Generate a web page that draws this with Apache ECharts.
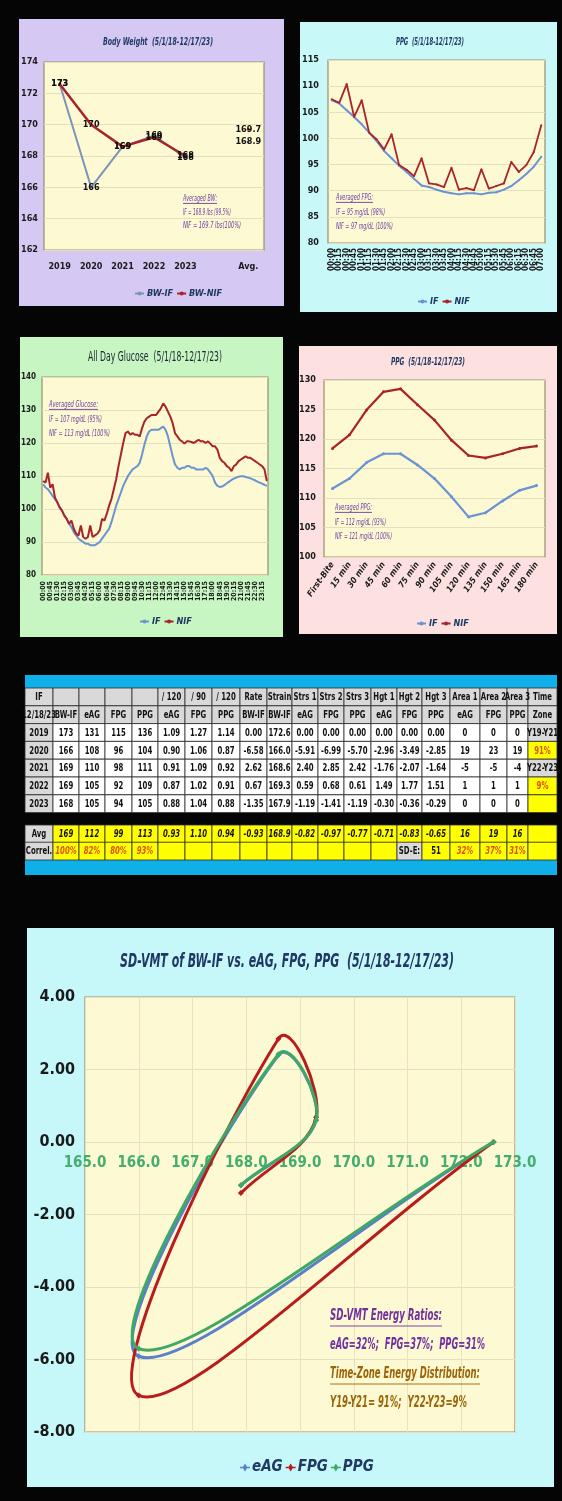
<!DOCTYPE html>
<html>
<head>
<meta charset="utf-8">
<script src="https://cdn.jsdelivr.net/npm/echarts@6.0.0/dist/echarts.min.js"></script>
<style>
html,body{margin:0;padding:0;background:#050505;}
#main{width:562px;height:1501px;}
</style>
</head>
<body>
<div id="main"></div>
<script>
var NARROW = "'Liberation Sans Narrow','Arial Narrow','DejaVu Sans Condensed',sans-serif";

// 体重
var bwYears = ['2019', '2020', '2021', '2022', '2023', '', 'Avg.'];
var bwIF = [172.6, 166.0, 168.6, 169.3, 167.9, null, 168.9];
var bwNIF = [172.6, 170.0, 168.6, 169.2, 168.0, null, 169.7];

// 空腹 (右上)
var fpgTimes = ['00:00', '00:15', '00:30', '00:45', '01:00', '01:15', '01:30', '01:45', '02:00', '02:15',
	'02:30', '02:45', '03:00', '03:15', '03:30', '03:45', '04:00', '04:15', '04:30', '04:45',
	'05:00', '05:15', '05:30', '05:45', '06:00', '06:15', '06:30', '06:45', '07:00'];
var fpgIF = [107.3, 106.7, 105.4, 104.1, 102.7, 101.1, 99.5, 97.6, 96.2, 94.8, 93.6, 92.3, 91.0, 90.7, 90.2,
	89.8, 89.5, 89.3, 89.5, 89.5, 89.3, 89.6, 89.7, 90.2, 90.9, 92.0, 93.2, 94.6, 96.5];
var fpgNIF = [107.5, 106.8, 110.4, 104.1, 107.3, 101.1, 99.8, 97.9, 100.8, 94.9, 94.0, 92.8, 96.2, 91.4, 91.2,
	90.7, 94.4, 90.2, 90.5, 90.1, 94.1, 90.4, 90.9, 91.4, 95.5, 93.6, 94.9, 97.4, 102.5];

// 全天血糖, 每15分钟
var dayIF = [107.5, 106.5, 106.0, 105.0, 104.0, 103.0, 102.0, 100.5, 99.5, 98.0,
	97.0, 95.5, 94.5, 93.0, 92.0, 91.0, 90.5, 90.0, 89.5, 89.5,
	89.0, 89.0, 89.0, 89.5, 90.0, 91.0, 92.0, 93.0, 94.0, 96.0,
	98.5, 101.0, 103.0, 105.0, 107.0, 108.5, 110.0, 111.0, 112.0, 112.5,
	113.0, 114.0, 116.5, 119.5, 122.0, 123.5, 124.0, 124.0, 124.0, 124.0,
	124.5, 125.0, 124.0, 122.0, 119.0, 116.0, 113.5, 112.5, 112.0, 112.5,
	112.5, 113.0, 113.0, 112.5, 112.5, 112.0, 112.0, 112.0, 112.0, 112.5,
	112.0, 111.0, 110.0, 108.0, 107.0, 106.7, 106.8, 107.2, 107.8, 108.3,
	108.8, 109.2, 109.5, 109.8, 109.9, 109.9, 109.7, 109.5, 109.3, 109.0,
	108.7, 108.3, 108.0, 107.7, 107.3, 107.0];
var dayNIF = [108.5, 108.0, 111.0, 106.5, 107.5, 103.5, 102.0, 100.5, 99.5, 98.0,
	97.0, 95.5, 96.5, 94.0, 92.5, 92.0, 95.0, 91.5, 91.0, 91.5,
	95.0, 91.5, 92.0, 92.5, 93.5, 97.0, 96.5, 98.5, 101.0, 103.0,
	106.0, 109.0, 113.0, 116.5, 120.0, 123.0, 123.5, 122.5, 123.0, 122.5,
	122.5, 122.0, 124.5, 126.5, 127.5, 128.0, 128.5, 128.5, 128.5, 129.5,
	130.5, 132.0, 131.0, 129.5, 128.0, 126.0, 123.0, 122.0, 121.0, 120.5,
	119.8, 120.5, 120.5, 120.3, 120.0, 120.5, 121.0, 120.5, 120.5, 120.0,
	120.5, 119.8, 119.0, 119.0, 118.0, 115.5, 114.5, 114.0, 113.0, 112.5,
	111.5, 113.0, 113.5, 114.5, 115.0, 115.5, 116.0, 115.5, 115.5, 115.0,
	114.5, 114.0, 113.5, 113.0, 112.0, 108.5];
var dayTimes = [];
for (var h = 0; h < 24; h++) {
	for (var m = 0; m < 60; m += 15) {
		dayTimes.push((h < 10 ? '0' : '') + h + ':' + (m < 10 ? '0' : '') + m);
	}
}

// 餐后
var ppgSteps = ['First-Bite', '15 min', '30 min', '45 min', '60 min', '75 min', '90 min', '105 min',
	'120 min', '135 min', '150 min', '165 min', '180 min'];
var ppgIF = [111.6, 113.3, 116.0, 117.5, 117.5, 115.6, 113.3, 110.2, 106.8, 107.5, 109.5, 111.3, 112.1];
var ppgNIF = [118.4, 120.7, 124.9, 128.0, 128.5, 125.8, 123.2, 119.8, 117.2, 116.8, 117.5, 118.4, 118.8];

// SD-VMT
var strainBW = [172.6, 166.0, 168.6, 169.3, 167.9];
var strsEAG = [0.00, -5.91, 2.40, 0.59, -1.19];
var strsFPG = [0.00, -6.99, 2.85, 0.68, -1.41];
var strsPPG = [0.00, -5.70, 2.42, 0.61, -1.19];

// 表格
var tHead1 = ['IF', '', '', '', '', '/ 120', '/ 90', '/ 120', 'Rate', 'Strain', 'Strs 1', 'Strs 2', 'Strs 3', 'Hgt 1', 'Hgt 2', 'Hgt 3', 'Area 1', 'Area 2', 'Area 3', 'Time'];
var tHead2 = ['12/18/23', 'BW-IF', 'eAG', 'FPG', 'PPG', 'eAG', 'FPG', 'PPG', 'BW-IF', 'BW-IF', 'eAG', 'FPG', 'PPG', 'eAG', 'FPG', 'PPG', 'eAG', 'FPG', 'PPG', 'Zone'];
var t2019 = ['2019', '173', '131', '115', '136', '1.09', '1.27', '1.14', '0.00', '172.6', '0.00', '0.00', '0.00', '0.00', '0.00', '0.00', '0', '0', '0', 'Y19-Y21'];
var t2020 = ['2020', '166', '108', '96', '104', '0.90', '1.06', '0.87', '-6.58', '166.0', '-5.91', '-6.99', '-5.70', '-2.96', '-3.49', '-2.85', '19', '23', '19', '91%'];
var t2021 = ['2021', '169', '110', '98', '111', '0.91', '1.09', '0.92', '2.62', '168.6', '2.40', '2.85', '2.42', '-1.76', '-2.07', '-1.64', '-5', '-5', '-4', 'Y22-Y23'];
var t2022 = ['2022', '169', '105', '92', '109', '0.87', '1.02', '0.91', '0.67', '169.3', '0.59', '0.68', '0.61', '1.49', '1.77', '1.51', '1', '1', '1', '9%'];
var t2023 = ['2023', '168', '105', '94', '105', '0.88', '1.04', '0.88', '-1.35', '167.9', '-1.19', '-1.41', '-1.19', '-0.30', '-0.36', '-0.29', '0', '0', '0', ''];
var tAvg = ['Avg', '169', '112', '99', '113', '0.93', '1.10', '0.94', '-0.93', '168.9', '-0.82', '-0.97', '-0.77', '-0.71', '-0.83', '-0.65', '16', '19', '16', ''];
var tCorrel = ['Correl.', '100%', '82%', '80%', '93%', '', '', '', '', '', '', '', '', '', 'SD-E:', '51', '32%', '37%', '31%', ''];

var BLUE = '#6a93d4', RED = '#a9232b', NAVY = '#1f3864', PURPLE = '#6a3aa0';

var ctx = document.createElement('canvas').getContext('2d');
function mw(s, font) {
	ctx.font = font;
	return ctx.measureText(s).width;
}
function fnt(style, size) {
	return style + ' ' + size + 'px ' + NARROW;
}

var gfx = [];

function rect(x, y, w, h, fill, stroke, z) {
	gfx.push({
		type: 'rect', z: z == null ? -5 : z, silent: true,
		shape: { x: x, y: y, width: w, height: h },
		style: { fill: fill, stroke: stroke || null, lineWidth: stroke ? 0.8 : 0 }
	});
}

// 文字, w = 目标宽度 (压扁)
function tx(x, y, s, font, color, w, align, sc) {
	var scale = sc || 1;
	if (w) scale = w / mw(s, font);
	gfx.push({
		type: 'text', z: 60, silent: true, x: x, y: y, scaleX: scale,
		style: { text: s, x: 0, y: 0, font: font, fill: color, align: align || 'left', verticalAlign: 'middle' }
	});
}

function uline(x, y, w, color) {
	gfx.push({
		type: 'line', z: 60, silent: true,
		shape: { x1: x, y1: y, x2: x + w, y2: y },
		style: { stroke: color, lineWidth: 0.9 }
	});
}

function note(x, y0, gap, lines, widths, size, color) {
	for (var i = 0; i < lines.length; i++) {
		tx(x, y0 + i * gap, lines[i], fnt('italic', size), color, widths[i]);
	}
	uline(x, y0 + size * 0.55, widths[0], color);
}

// 面板
rect(19, 19, 265, 287, '#d5c8f3');
rect(300, 22, 257, 290, '#c8f8f8');
rect(20, 337, 263, 300, '#c8f6c2');
rect(299, 346, 258, 288, '#fde1e1');
rect(27, 928, 527, 559, '#c6f7f9');

// 标题
tx(158, 42, 'Body Weight  (5/1/18-12/17/23)', fnt('italic bold', 11), NAVY, 110, 'center');
tx(430, 42, 'PPG  (5/1/18-12/17/23)', fnt('italic bold', 10), NAVY, 68, 'center');
tx(155, 357, 'All Day Glucose  (5/1/18-12/17/23)', fnt('normal', 14), '#1b2233', 134, 'center');
tx(428, 362, 'PPG  (5/1/18-12/17/23)', fnt('italic bold', 10), NAVY, 74, 'center');
tx(287, 962, 'SD-VMT of BW-IF vs. eAG, FPG, PPG  (5/1/18-12/17/23)', fnt('italic bold', 19), NAVY, 334, 'center');

// 注释
note(183, 199, 13.5, ['Averaged BW:', 'IF = 168.9 lbs (99.5%)', 'NIF = 169.7 lbs(100%)'], [34, 48, 58], 8, PURPLE);
note(336, 198, 14.5, ['Averaged FPG:', 'IF = 95 mg/dL (98%)', 'NIF = 97 mg/dL (100%)'], [37, 49, 57], 8, PURPLE);
note(49, 405, 14.5, ['Averaged Glucose:', 'IF = 107 mg/dL (95%)', 'NIF = 113 mg/dL (100%)'], [49, 53, 61], 8, PURPLE);
note(335, 508, 14.5, ['Averaged PPG:', 'IF = 112 mg/dL (93%)', 'NIF = 121 mg/dL (100%)'], [37, 51, 57], 8, PURPLE);

tx(330, 1316, 'SD-VMT Energy Ratios:', fnt('italic bold', 16), '#7030a0', 112);
uline(330, 1326, 112, '#7030a0');
tx(330, 1345, 'eAG=32%;  FPG=37%;  PPG=31%', fnt('italic bold', 16), '#7030a0', 155);
tx(330, 1374, 'Time-Zone Energy Distribution:', fnt('italic bold', 16), '#9a6408', 150);
uline(330, 1384, 150, '#9a6408');
tx(330, 1403, 'Y19-Y21= 91%;  Y22-Y23=9%', fnt('italic bold', 16), '#9a6408', 137);

// 表格
rect(25, 675, 532, 13, '#0fb0ea', null, 1);
rect(25, 859, 532, 16, '#0fb0ea', null, 1);
var colX = [25, 53, 79, 105, 132, 158, 185, 212, 240, 267, 292, 318, 344, 371, 397, 422, 450, 480, 507, 528, 557];
var tRows = [tHead1, tHead2, t2019, t2020, t2021, t2022, t2023, tAvg, tCorrel];
var rowTop = [688, 705.8, 723.6, 741.4, 759.2, 777, 794.8, 825, 842.2];
var rowH = 17.8;
var GRAY = '#d9d9d9', YEL = '#ffff00', ORG = '#e0500a';
for (var r = 0; r < tRows.length; r++) {
	for (var c = 0; c < 20; c++) {
		var s = tRows[r][c];
		var fill = '#ffffff', col = '#111111', sty = 'bold';
		if (r < 2 || c == 0) fill = GRAY;
		else if (r < 7) {
			if (c == 19) {
				if (s.charAt(0) == 'Y') fill = GRAY;
				else { fill = YEL; col = ORG; }
			}
		} else {
			fill = YEL;
			if (r == 7) sty = 'italic bold';
			if (r == 8) {
				if (c == 14) fill = GRAY;
				if ((c >= 1 && c <= 4) || (c >= 16 && c <= 18)) { col = ORG; sty = 'italic bold'; }
			}
		}
		if (c == 0) sty = 'bold';
		var cw = colX[c + 1] - colX[c];
		rect(colX[c], rowTop[r], cw, rowH, fill, '#2b2b2b', 2);
		if (s) tx(colX[c] + cw / 2, rowTop[r] + rowH / 2 + 0.5, s, fnt(sty, 11), col, null, 'center', 0.7);
	}
}

function plotGrid(l, t, w, h) {
	return {
		left: l, top: t, width: w, height: h, show: true, z: 0,
		backgroundColor: '#fdf9d2', borderColor: '#9a8e70', borderWidth: 1.2,
		containLabel: false, outerBoundsMode: 'none'
	};
}

function lbl(size, extra) {
	var o = { color: '#1a1a1a', fontSize: size, fontWeight: 'bold', fontFamily: NARROW };
	for (var k in extra) o[k] = extra[k];
	return o;
}

function catAxis(gi, data, label) {
	return {
		type: 'category', gridIndex: gi, data: data, boundaryGap: true,
		axisLine: { show: false }, axisTick: { show: false }, splitLine: { show: false },
		axisLabel: label
	};
}

function valAxis(gi, min, max, step, label, fmt) {
	var lab = label;
	if (fmt) lab.formatter = fmt;
	return {
		type: 'value', gridIndex: gi, min: min, max: max, interval: step,
		axisLine: { show: false }, axisTick: { show: false },
		splitLine: { show: true, lineStyle: { color: '#e4dfbd', width: 1 } },
		axisLabel: lab
	};
}

function legendAt(left, top, names, size, iw) {
	return {
		left: left, top: top, data: names, orient: 'horizontal', itemGap: 3,
		itemWidth: iw, itemHeight: 5, padding: 0, selectedMode: false,
		textStyle: { color: NAVY, fontSize: size, fontStyle: 'italic', fontWeight: 'bold', fontFamily: NARROW, padding: [0, 0, 0, -2] }
	};
}

function line(name, xi, data, color, width, symSize) {
	return {
		name: name, type: 'line', xAxisIndex: xi, yAxisIndex: xi, data: data,
		symbol: symSize ? 'circle' : 'none', symbolSize: symSize || 0,
		showSymbol: !!symSize,
		lineStyle: { color: color, width: width }, itemStyle: { color: color },
		emphasis: { disabled: true }, animation: false
	};
}

function bwLabel(p) {
	if (p.value == null) return '';
	return p.dataIndex == 6 ? p.value.toFixed(1) : String(Math.round(p.value));
}

var sIF = line('BW-IF', 0, bwIF, '#7c94b6', 2, 3);
var sNIF = line('BW-NIF', 0, bwNIF, RED, 2.5, 3);
sIF.label = sNIF.label = {
	show: true, position: 'inside', formatter: bwLabel,
	color: '#111', fontSize: 9, fontWeight: 'bold', fontFamily: NARROW
};

// 平滑散点线 (像 Excel 的平滑线), 控制点不截断, 用像素坐标算
var SMOOTH = 0.38;
function ctrl(P, i) {
	var p = P[i], a = P[i - 1] || p, b = P[i + 1] || p;
	var vx = b[0] - a[0], vy = b[1] - a[1];
	var lp = Math.hypot(p[0] - a[0], p[1] - a[1]);
	var ln = Math.hypot(b[0] - p[0], b[1] - p[1]);
	var k = ln / (lp + ln);
	return {
		cin: [p[0] - vx * SMOOTH * (1 - k), p[1] - vy * SMOOTH * (1 - k)],
		cout: [p[0] + vx * SMOOTH * k, p[1] + vy * SMOOTH * k]
	};
}

function vmt(name, ys, color) {
	var pts = strainBW.map(function(x, i) { return [x, ys[i]]; });
	return {
		name: name, type: 'custom', xAxisIndex: 4, yAxisIndex: 4, data: pts,
		encode: { x: 0, y: 1 }, itemStyle: { color: color }, animation: false,
		renderItem: function(params, api) {
			var i = params.dataIndex;
			var P = pts.map(function(d) { return api.coord(d); });
			var kids = [];
			if (i < P.length - 1) {
				var a = ctrl(P, i), b = ctrl(P, i + 1);
				kids.push({
					type: 'bezierCurve',
					shape: {
						x1: P[i][0], y1: P[i][1], x2: P[i + 1][0], y2: P[i + 1][1],
						cpx1: a.cout[0], cpy1: a.cout[1], cpx2: b.cin[0], cpy2: b.cin[1]
					},
					style: { stroke: color, lineWidth: 3, fill: null, lineCap: 'round' }
				});
			}
			var c = P[i];
			kids.push({
				type: 'polygon',
				shape: { points: [[c[0], c[1] - 3], [c[0] + 3, c[1]], [c[0], c[1] + 3], [c[0] - 3, c[1]]] },
				style: { fill: color }
			});
			return { type: 'group', children: kids };
		}
	};
}

var LEG_ICON = 'path://M0,3.3L3,3.3L5,0L7,3.3L10,3.3L10,4.7L7,4.7L5,8L3,4.7L0,4.7Z';

var option = {
	backgroundColor: '#050505',
	animation: false,
	grid: [
		plotGrid(44, 62, 220, 188),
		plotGrid(328, 60, 217, 183),
		plotGrid(42, 377, 226, 198),
		plotGrid(324, 380, 221, 177),
		plotGrid(85, 997, 430, 435)
	],
	xAxis: [
		catAxis(0, bwYears, lbl(9, { margin: 12, interval: 0 })),
		catAxis(1, fpgTimes, lbl(8, { rotate: 90, interval: 0, margin: 5 })),
		catAxis(2, dayTimes, lbl(7, { rotate: 90, interval: 2, margin: 6 })),
		catAxis(3, ppgSteps, lbl(8.5, { rotate: 55, interval: 0, margin: 6, fontStyle: 'italic' })),
		{
			// 横轴画在 y=0 处
			type: 'value', gridIndex: 4, min: 165, max: 173, interval: 1,
			position: 'bottom', offset: -290,
			axisLine: { show: false, onZero: false },
			axisTick: { show: false },
			splitLine: { show: true, lineStyle: { color: '#e8e2c2' } },
			axisLabel: lbl(15, { color: '#45ad6e', margin: 14, formatter: function(v) { return v.toFixed(1); } })
		}
	],
	yAxis: [
		valAxis(0, 162, 174, 2, lbl(9, { margin: 6 })),
		valAxis(1, 80, 115, 5, lbl(9, { margin: 9 })),
		valAxis(2, 80, 140, 10, lbl(8, { margin: 6 })),
		valAxis(3, 100, 130, 5, lbl(9, { margin: 8 })),
		valAxis(4, -8, 4, 2, lbl(16, { margin: 10 }), function(v) { return v.toFixed(2); })
	],
	legend: [
		legendAt(134, 289, ['BW-IF', 'BW-NIF'], 9, 9),
		legendAt(417, 297, ['IF', 'NIF'], 9, 9),
		legendAt(139, 617, ['IF', 'NIF'], 9, 9),
		legendAt(416, 619, ['IF', 'NIF'], 9, 9),
		(function() {
			var l = legendAt(240, 1460, [
				{ name: 'eAG', icon: LEG_ICON },
				{ name: 'FPG', icon: LEG_ICON },
				{ name: 'PPG', icon: LEG_ICON }
			], 15, 10);
			l.itemHeight = 8;
			l.textStyle.padding = [0, 0, 0, -3];
			return l;
		})()
	],
	series: [
		sIF, sNIF,
		line('IF', 1, fpgIF, BLUE, 2, 2),
		line('NIF', 1, fpgNIF, RED, 1.8, 2),
		line('IF', 2, dayIF, BLUE, 2, 0),
		line('NIF', 2, dayNIF, RED, 2, 0),
		line('IF', 3, ppgIF, BLUE, 2.2, 3),
		line('NIF', 3, ppgNIF, RED, 2.2, 3),
		vmt('eAG', strsEAG, '#5a80cc'),
		vmt('FPG', strsFPG, '#b81c1c'),
		vmt('PPG', strsPPG, '#3fa865')
	],
	graphic: { elements: gfx }
};

var chart = echarts.init(document.getElementById('main'), null, { renderer: 'canvas' });
chart.setOption(option);
</script>
</body>
</html>
